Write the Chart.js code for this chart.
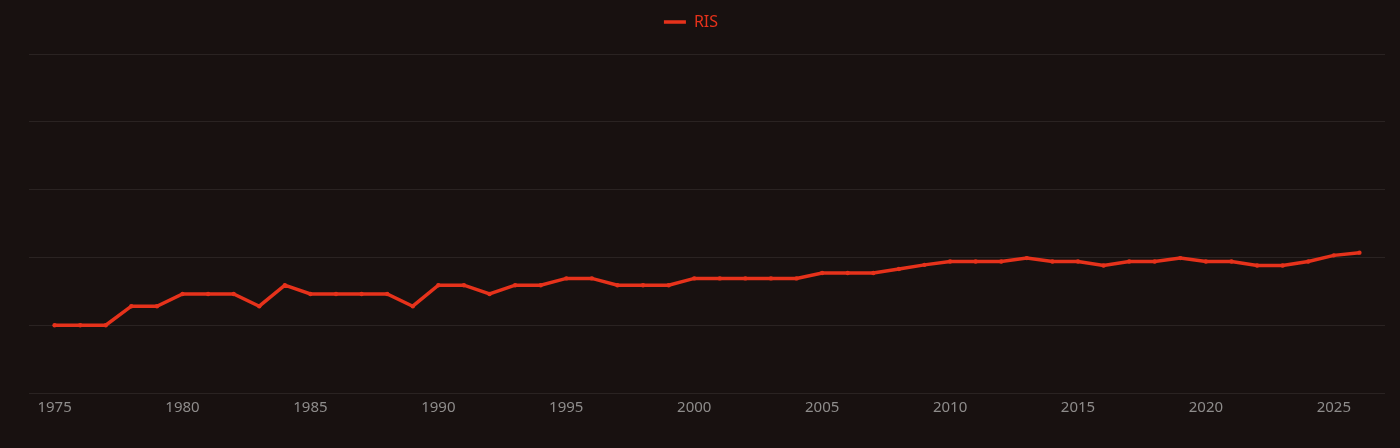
<!DOCTYPE html>
<html>
<head>
<meta charset="utf-8">
<script src="https://cdn.jsdelivr.net/npm/chart.js@4.4.1/dist/chart.umd.min.js"></script>
<style>
  html, body { margin: 0; padding: 0; background: #181110; }
  #wrap { width: 1400px; height: 448px; }
</style>
</head>
<body>
<div id="wrap"><canvas id="chart"></canvas></div>
<script>
const years = [1975, 1976, 1977, 1978, 1979, 1980, 1981, 1982, 1983, 1984,
  1985, 1986, 1987, 1988, 1989, 1990, 1991, 1992, 1993, 1994,
  1995, 1996, 1997, 1998, 1999, 2000, 2001, 2002, 2003, 2004,
  2005, 2006, 2007, 2008, 2009, 2010, 2011, 2012, 2013, 2014,
  2015, 2016, 2017, 2018, 2019, 2020, 2021, 2022, 2023, 2024,
  2025, 2026];
const risValues = [1.00, 1.00, 1.00, 1.28, 1.28, 1.46, 1.46, 1.46, 1.28, 1.59,
  1.46, 1.46, 1.46, 1.46, 1.28, 1.59, 1.59, 1.46, 1.59, 1.59,
  1.69, 1.69, 1.59, 1.59, 1.59, 1.69, 1.69, 1.69, 1.69, 1.69,
  1.77, 1.77, 1.77, 1.83, 1.89, 1.94, 1.94, 1.94, 1.99, 1.94,
  1.94, 1.88, 1.94, 1.94, 1.99, 1.94, 1.94, 1.88, 1.88, 1.94,
  2.03, 2.07];
const xTicks = [1975, 1980, 1985, 1990, 1995, 2000, 2005, 2010, 2015, 2020, 2025];

const lineColor = '#e6321b';

// extra room under the legend, and legend nudged left like the original
const legendGap = {
  id: 'legendGap',
  beforeInit(chart) {
    const fit = chart.legend.fit;
    chart.legend.fit = function () {
      fit.bind(chart.legend)();
      this.height += 14;
    };
  },
  afterLayout(chart) {
    chart.legend.left -= 16;
    chart.legend.right -= 16;
  }
};

new Chart(document.getElementById('chart'), {
  type: 'line',
  data: {
    datasets: [{
      label: 'RIS',
      data: years.map((y, i) => ({ x: y, y: risValues[i] })),
      borderColor: lineColor,
      backgroundColor: lineColor,
      borderWidth: 3.5,
      pointRadius: 2.2,
      pointBackgroundColor: lineColor,
      pointBorderWidth: 0,
      tension: 0
    }]
  },
  options: {
    responsive: true,
    maintainAspectRatio: false,
    animation: false,
    layout: { padding: { left: 29, right: 15, top: 4, bottom: 25 } },
    plugins: {
      legend: {
        labels: {
          color: lineColor,
          boxWidth: 22,
          boxHeight: 0,
          font: { family: 'Noto Sans', size: 16 }
        }
      },
      tooltip: { enabled: false }
    },
    scales: {
      x: {
        type: 'linear',
        min: 1974,
        max: 2027,
        afterBuildTicks: axis => { axis.ticks = xTicks.map(v => ({ value: v })); },
        grid: { display: false, drawTicks: false },
        border: { display: false },
        ticks: {
          color: '#8e8c8b',
          padding: 6,
          font: { family: 'Noto Sans', size: 15 },
          callback: v => String(v)
        }
      },
      y: {
        min: 0,
        max: 5,
        ticks: { display: false, stepSize: 1 },
        grid: { color: '#2a2322', lineWidth: 1, drawTicks: false },
        border: { display: false }
      }
    }
  },
  plugins: [legendGap]
});
</script>
</body>
</html>
